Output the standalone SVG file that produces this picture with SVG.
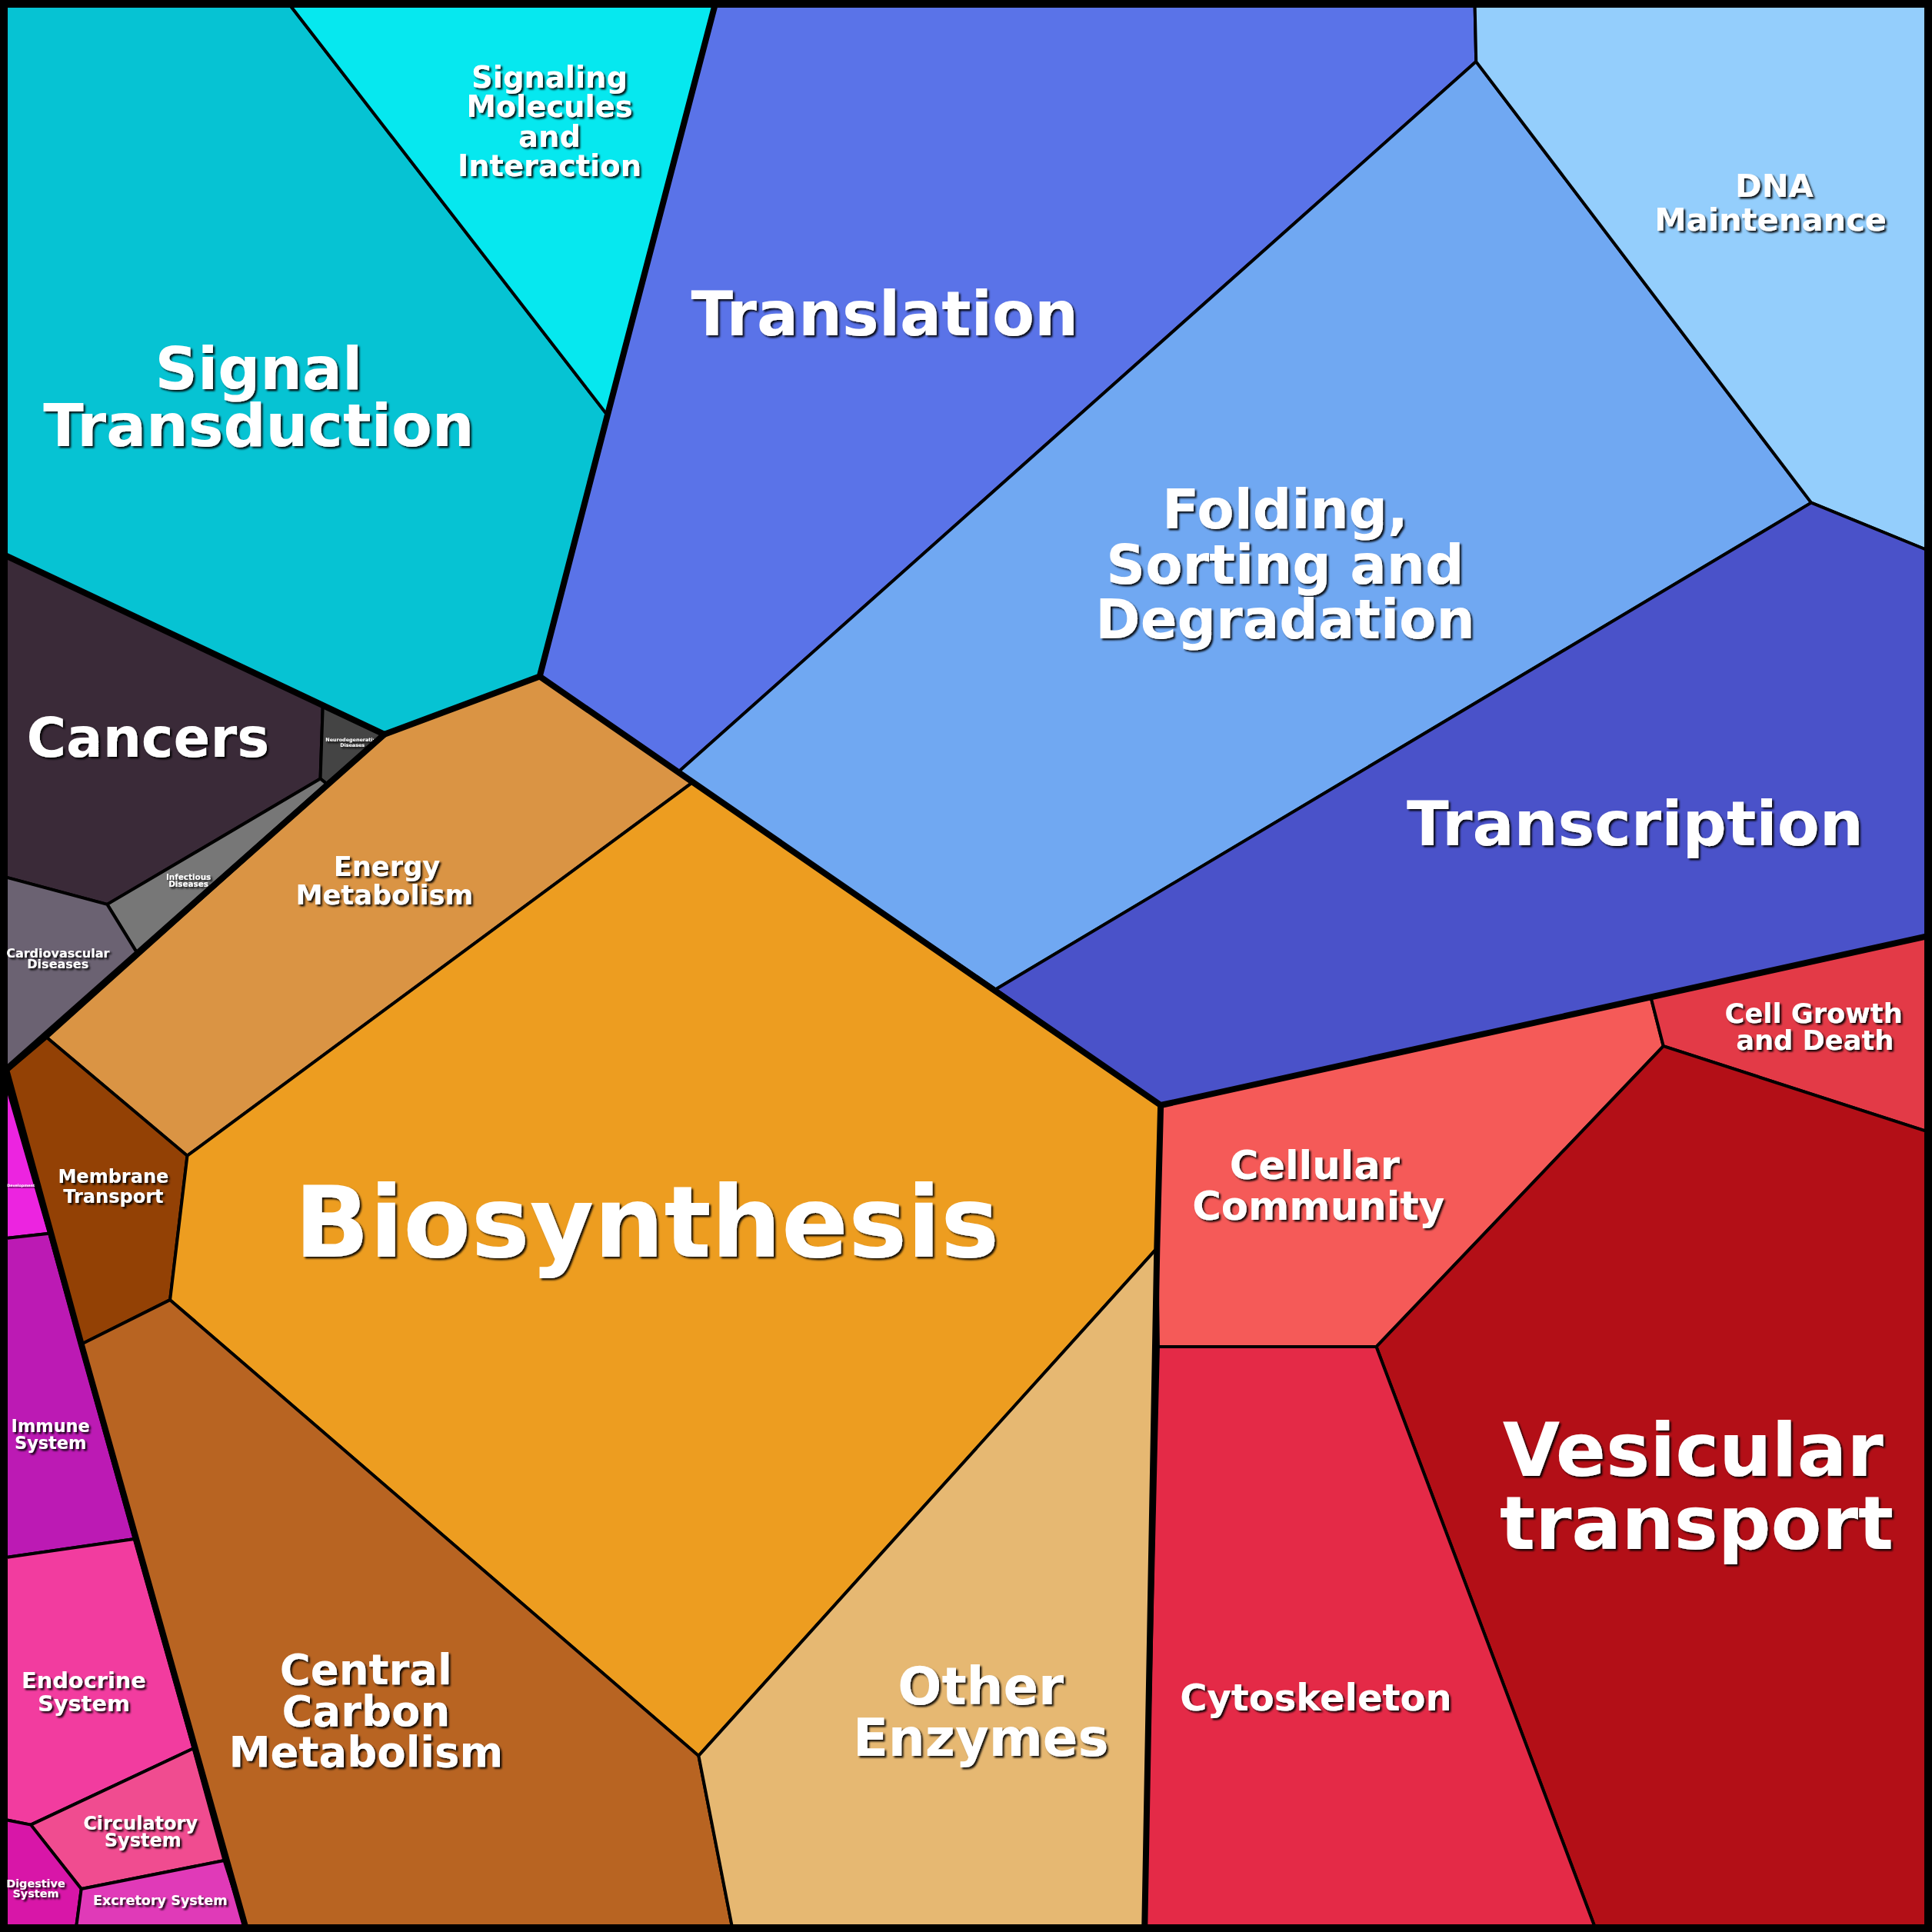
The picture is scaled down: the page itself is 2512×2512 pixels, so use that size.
<svg xmlns="http://www.w3.org/2000/svg" width="2512" height="2512" viewBox="0 0 2512 2512">
<defs>
<filter id="sh" x="-10%" y="-10%" width="120%" height="130%"><feDropShadow dx="1.5" dy="1.5" stdDeviation="0.6" flood-color="#000" flood-opacity="0.9"/></filter>
<style>
.c{stroke:#000;stroke-width:2.5;stroke-linejoin:round}
.t{fill:#fff;font-family:"DejaVu Sans",sans-serif;font-weight:bold;text-anchor:middle;filter:url(#sh)}
.k{fill:none;stroke:#000;stroke-width:5;stroke-linejoin:round;stroke-linecap:round}
</style>
</defs>
<rect width="2512" height="2512" fill="#000"/>
<g transform="scale(1.60204)">
<g id="signal-transduction"><polygon class="c" fill="#06c3d3" points="5,5 236,5 493,337 438,549 312,596 5,451"/><text class="t" font-size="48"><tspan x="210" y="316">Signal</tspan><tspan x="210" y="362">Transduction</tspan></text></g>
<g id="signaling"><polygon class="c" fill="#06e8ef" points="236,5 580,5 493,337"/><text class="t" font-size="24"><tspan x="446" y="71">Signaling</tspan><tspan x="446" y="95">Molecules</tspan><tspan x="446" y="119">and</tspan><tspan x="446" y="143">Interaction</tspan></text></g>
<g id="translation"><polygon class="c" fill="#5a73e8" points="580,5 1197,5 1198,50 550,627 438,549 493,337"/><text class="t" font-size="50" x="718" y="272">Translation</text></g>
<g id="folding"><polygon class="c" fill="#70a8f2" points="1198,50 1470,408 808,803 550,627"/><text class="t" font-size="44"><tspan x="1043" y="429">Folding,</tspan><tspan x="1043" y="474">Sorting and</tspan><tspan x="1043" y="518">Degradation</tspan></text></g>
<g id="dna"><polygon class="c" fill="#94cefc" points="1197,5 1563,5 1563,446 1470,408 1198,50"/><text class="t" font-size="26"><tspan x="1440" y="160">DNA</tspan><tspan x="1437" y="187">Maintenance</tspan></text></g>
<g id="transcription"><polygon class="c" fill="#4a52c9" points="1470,408 1563,446 1563,760 1340,810 942,897 808,803"/><text class="t" font-size="50" x="1327" y="686">Transcription</text></g>
<g id="cancers"><polygon class="c" fill="#3a2a38" points="5,451 262,573 260,632 87,734 5,712"/><text class="t" font-size="44" x="120" y="614">Cancers</text></g>
<g id="neuro"><polygon class="c" fill="#444" points="262,573 312,596 265,636 260,632"/><text class="t" font-size="4" x="286" y="602">Neurodegenerative</text><text class="t" font-size="4" x="286" y="606">Diseases</text></g>
<g id="infectious"><polygon class="c" fill="#777" points="87,734 260,632 265,636 111,773"/><text class="t" font-size="6.5"><tspan x="153" y="714">Infectious</tspan><tspan x="153" y="720">Diseases</tspan></text></g>
<g id="cardio"><polygon class="c" fill="#6b6272" points="5,712 87,734 111,773 5,868"/><text class="t" font-size="10"><tspan x="47" y="777">Cardiovascular</tspan><tspan x="47" y="786">Diseases</tspan></text></g>
<g id="energy"><polygon class="c" fill="#da9444" points="312,596 438,549 562,635 152,938 38,842"/><text class="t" font-size="22"><tspan x="314" y="711">Energy</tspan><tspan x="312" y="734">Metabolism</tspan></text></g>
<g id="membrane"><polygon class="c" fill="#934105" points="38,842 152,938 138,1055 66,1091 5,870"/><text class="t" font-size="15"><tspan x="92" y="960">Membrane</tspan><tspan x="92" y="976">Transport</tspan></text></g>
<g id="biosynthesis"><polygon class="c" fill="#ed9d20" points="562,635 942,897 939,1013 567,1425 138,1055 152,938"/><text class="t" font-size="80" x="525" y="1020">Biosynthesis</text></g>
<g id="central-carbon"><polygon class="c" fill="#b86422" points="138,1055 567,1425 594,1563 199,1563 66,1091"/><text class="t" font-size="34"><tspan x="297" y="1367">Central</tspan><tspan x="297" y="1401">Carbon</tspan><tspan x="297" y="1434">Metabolism</tspan></text></g>
<g id="other-enzymes"><polygon class="c" fill="#e6b872" points="939,1013 929,1563 594,1563 567,1425"/><text class="t" font-size="42"><tspan x="796" y="1383">Other</tspan><tspan x="796" y="1425">Enzymes</tspan></text></g>
<g id="cellular-community"><polygon class="c" fill="#f55a58" points="942,897 1340,810 1350,849 1117,1093 940,1093 939,1013"/><text class="t" font-size="32"><tspan x="1067" y="957">Cellular</tspan><tspan x="1070" y="990">Community</tspan></text></g>
<g id="cell-growth"><polygon class="c" fill="#e33a47" points="1340,810 1563,760 1563,918 1350,849"/><text class="t" font-size="22"><tspan x="1472" y="830">Cell Growth</tspan><tspan x="1473" y="852">and Death</tspan></text></g>
<g id="vesicular"><polygon class="c" fill="#b30f17" points="1350,849 1563,918 1563,1563 1294,1563 1117,1093"/><text class="t" font-size="60"><tspan x="1374" y="1198">Vesicular</tspan><tspan x="1377" y="1257">transport</tspan></text></g>
<g id="cytoskeleton"><polygon class="c" fill="#e42a47" points="940,1093 1117,1093 1294,1563 929,1563"/><text class="t" font-size="30" x="1068" y="1388">Cytoskeleton</text></g>
<g id="development"><polygon class="c" fill="#ec24e0" points="5,880 40,1001 5,1005"/><text class="t" font-size="3" x="17" y="963">Development</text></g>
<g id="immune"><polygon class="c" fill="#bc1ab4" points="5,1005 40,1001 109,1249 5,1264"/><text class="t" font-size="14"><tspan x="41" y="1162">Immune</tspan><tspan x="41" y="1176">System</tspan></text></g>
<g id="endocrine"><polygon class="c" fill="#f23c9f" points="5,1264 109,1249 157,1419 25,1481 5,1477"/><text class="t" font-size="18"><tspan x="68" y="1370">Endocrine</tspan><tspan x="68" y="1389">System</tspan></text></g>
<g id="circulatory"><polygon class="c" fill="#f04c90" points="25,1481 157,1419 182,1510 66,1533"/><text class="t" font-size="15"><tspan x="114" y="1485">Circulatory</tspan><tspan x="116" y="1499">System</tspan></text></g>
<g id="digestive"><polygon class="c" fill="#d816a8" points="5,1477 25,1481 66,1533 62,1563 5,1563"/><text class="t" font-size="9"><tspan x="29" y="1532">Digestive</tspan><tspan x="29" y="1540">System</tspan></text></g>
<g id="excretory"><polygon class="c" fill="#e03ab8" points="66,1533 182,1510 199,1563 62,1563"/><text class="t" font-size="11" x="130" y="1546">Excretory System</text></g>
<g id="connectors">
<polyline class="k" points="580,5 493,337 438,549 312,596 5,451"/>
<polyline class="k" points="438,549 942,897 1563,760"/>
<polyline class="k" points="942,897 939,1013 929,1563"/>
<polyline class="k" points="312,596 5,868 66,1091 199,1563"/>
<rect x="3" y="3" width="1562" height="1562" class="k" stroke-width="6"/>
</g>
</g>
</svg>
